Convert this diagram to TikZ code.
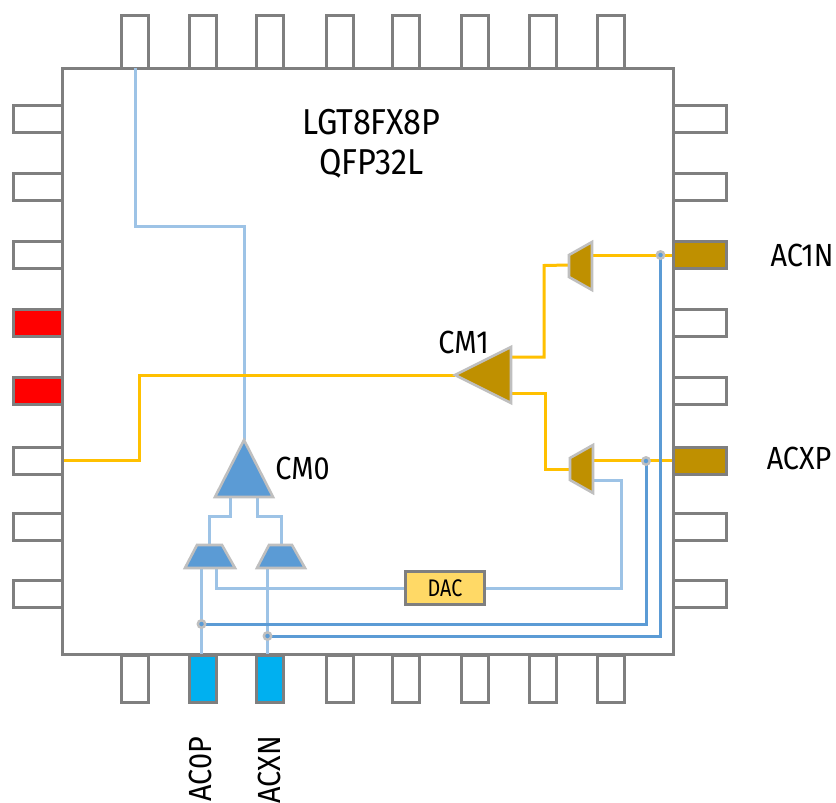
\documentclass[tikz,border=0pt]{standalone}
\usepackage{fontspec}
\setmainfont[FakeStretch=0.9]{Fira Sans}
\newfontfamily\dacface[FakeStretch=0.82]{Fira Sans}
\definecolor{pinline}{HTML}{7F7F7F}
\definecolor{ltblue}{HTML}{9DC3E6}
\definecolor{dkblue}{HTML}{5B9BD5}
\definecolor{orangew}{HTML}{FFC000}
\definecolor{gold}{HTML}{BF9000}
\definecolor{shapeline}{HTML}{BFBFBF}
\definecolor{cyanpin}{HTML}{00B0F0}
\definecolor{dacfill}{HTML}{FFD966}
\tikzset{
 pinh/.style={draw=pinline,line width=3pt,minimum width=49pt,minimum height=27pt,inner sep=0pt,fill=white,anchor=center},
 pinv/.style={draw=pinline,line width=3pt,minimum width=27pt,inner sep=0pt,fill=white,anchor=center},
 ltw/.style={draw=ltblue,line width=3pt,line join=miter},
 dkw/.style={draw=dkblue,line width=3pt,line join=miter},
 orw/.style={draw=orangew,line width=3pt,line join=miter},
 amp/.style={draw=shapeline,line width=2.6pt,line join=miter},
 jout/.style={circle,fill=shapeline,minimum size=10pt,inner sep=0pt},
 lbl/.style={font=\fontsize{32}{34}\selectfont,inner sep=0pt},
 ttl/.style={font=\fontsize{36}{38}\selectfont,inner sep=0pt},
}
\begin{document}
\begin{tikzpicture}[x=1pt,y=-1pt]
\useasboundingbox (0,0) rectangle (836,803);
% top and bottom pins
\foreach \n/\x in {1/134.5,2/202.5,3/270,4/340,5/405.5,6/474.5,7/543,8/610.5}{
  \node[pinv,minimum height=53pt] (t\n) at (\x,42) {};
  \node[pinv,minimum height=47pt] (b\n) at (\x,678.5) {};
}
% side pins
\foreach \n/\y in {1/119,2/187,3/255,4/322.5,5/390.5,6/460.5,7/526.5,8/593.5}{
  \node[pinh] (l\n) at (37.5,\y) {};
  \node[pinh,minimum width=53pt] (r\n) at (700,\y) {};
}
% body
\node[draw=pinline,line width=3pt,fill=white,inner sep=0pt,minimum width=611pt,minimum height=586pt] (body) at (367.5,361) {};
% coloured pins
\node[pinh,fill=red] at (l4) {};
\node[pinh,fill=red] at (l5) {};
\node[pinh,minimum width=53pt,fill=gold] at (r3) {};
\node[pinh,minimum width=53pt,fill=gold] at (r6) {};
\node[pinv,minimum height=47pt,fill=cyanpin] at (b2) {};
\node[pinv,minimum height=47pt,fill=cyanpin] at (b3) {};
% anchor coordinates
\coordinate (cm0top) at (244,440);
\coordinate (cm0l) at (230,497);
\coordinate (cm0r) at (257,497);
\coordinate (mlt) at (209,545);
\coordinate (mrt) at (281,545);
\coordinate (mla) at (201.5,568);
\coordinate (mlb) at (216,568);
\coordinate (mra) at (267.5,568);
\coordinate (cm1tip) at (455,375);
\coordinate (cm1u) at (512,357);
\coordinate (cm1d) at (512,393);
\coordinate (mul) at (569,265);
\coordinate (mdl) at (570,469);
\coordinate (mur) at (592,255);
\coordinate (mdr) at (593,460.5);
\coordinate (mdb) at (593,480);
\coordinate (ja) at (201.5,624);
\coordinate (jb) at (267.5,636);
\coordinate (jc) at (646,461);
\coordinate (jd) at (660.5,255);
% DAC
\node[draw=pinline,line width=3pt,fill=dacfill,minimum width=79pt,minimum height=33pt,inner sep=0pt,font=\dacface\fontsize{24}{26}\selectfont] (dac) at (445,588) {DAC};
% light blue wires
\draw[ltw] (135.5,68) -- (135.5,226.5) -- (244,226.5) -- (cm0top);
\draw[ltw] (cm0l) -- (230,516) -- (209,516) -- (mlt);
\draw[ltw] (cm0r) -- (257,516) -- (281,516) -- (mrt);
\draw[ltw] (mla) -- (b2.north -| mla);
\draw[ltw] (mra) -- (b3.north -| mra);
\draw[ltw] (mlb) -- (216,588) -- (dac.west);
\draw[ltw] (dac.east) -- (621.5,588) -- (621.5,480) -- (mdb);
% orange wires
\draw[orw] (l6.east) -- (139.5,460.5) -- (139.5,375) -- (cm1tip);
\draw[orw] (cm1u) -- (544,357) -- (544,265.5) -- (mul);
\draw[orw] (cm1d) -- (545,393) -- (545,469) -- (mdl);
\draw[orw] (mur) -- (r3.west);
\draw[orw] (mdr) -- (r6.west);
% dark blue wires
\draw[dkw] (ja) -- (646,624) -- (jc);
\draw[dkw] (jb) -- (660.5,636) -- (jd);
% amplifiers
\draw[amp,fill=dkblue] (cm0top) -- (273,497) -- (215,497) -- cycle;
\draw[amp,fill=dkblue] (197,545) -- (222,545) -- (235,568) -- (185,568) -- cycle;
\draw[amp,fill=dkblue] (269,545) -- (292,545) -- (305,568) -- (257,568) -- cycle;
\draw[amp,fill=gold] (cm1tip) -- (511,347) -- (511,403) -- cycle;
\draw[amp,fill=gold] (569,255) -- (592,242) -- (592,290) -- (569,277) -- cycle;
\draw[amp,fill=gold] (570,458) -- (593,445) -- (593,493) -- (570,480) -- cycle;
% junctions
\foreach \j in {ja,jb,jc,jd}{
  \node[jout] (\j o) at (\j) {};
  \node[circle,fill=dkblue,minimum size=4.5pt,inner sep=0pt] (\j i) at (\j) {};
}
% labels
\node[ttl] (title1) at (371.5,122) {LGT8FX8P};
\node[ttl] (title2) at (371.5,164) {QFP32L};
\node[lbl] (cm1) at (463.5,342) {CM1};
\node[lbl] (cm0) at (302.5,468) {CM0};
\node[lbl] (ac1n) at (802,255) {AC1N};
\node[lbl] (acxp) at (799,458) {ACXP};
\node[lbl,rotate=90] (ac0p) at (200.5,769.5) {AC0P};
\node[lbl,rotate=90] (acxn) at (269,770) {ACXN};
\end{tikzpicture}
\end{document}
